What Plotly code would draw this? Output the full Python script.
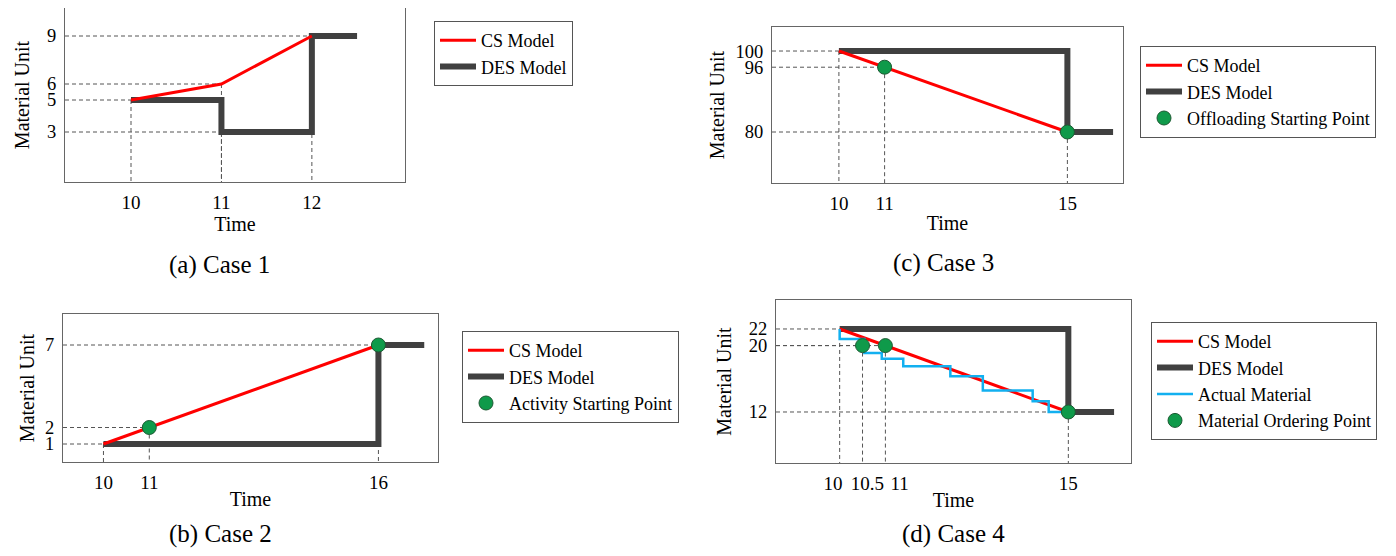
import plotly.graph_objects as go

# the page body adds an 8px margin, so the figure is 16px smaller than the window
OFF = 8
W, H = 1396 - 2 * OFF, 556 - 2 * OFF

# ---------------- data ----------------
# Case 1
a_cs_x = [10, 11, 12]
a_cs_y = [5, 6, 9]
a_des_x = [10, 11, 11, 12, 12, 12.5]
a_des_y = [5, 5, 3, 3, 9, 9]
a_guides = [(10, 5), (11, 6), (11, 3), (12, 9)]
a_xticks = [10, 11, 12]
a_xlabels = ["10", "11", "12"]
a_yticks = [3, 5, 6, 9]

# Case 2
b_cs_x = [10, 16]
b_cs_y = [1, 7]
b_des_x = [10, 16, 16, 17]
b_des_y = [1, 1, 7, 7]
b_pts_x = [11, 16]
b_pts_y = [2, 7]
b_guides = [(10, 1), (11, 2), (16, 7)]
b_xticks = [10, 11, 16]
b_xlabels = ["10", "11", "16"]
b_yticks = [1, 2, 7]

# Case 3
c_cs_x = [10, 15]
c_cs_y = [100, 80]
c_des_x = [10, 15, 15, 16]
c_des_y = [100, 100, 80, 80]
c_pts_x = [11, 15]
c_pts_y = [96, 80]
c_guides = [(10, 100), (11, 96), (15, 80)]
c_xticks = [10, 11, 15]
c_xlabels = ["10", "11", "15"]
c_yticks = [80, 96, 100]

# Case 4
d_cs_x = [10, 15]
d_cs_y = [22, 12]
d_des_x = [10, 15, 15, 16]
d_des_y = [22, 22, 12, 12]
d_act_x = [10, 10, 10.54, 10.92, 11.39, 12.42, 13.13, 14.22, 14.57, 15]
d_act_y = [22, 20.8, 19.1, 18.4, 17.5, 16.3, 14.6, 13.3, 12, 12]
d_pts_x = [10.5, 11, 15]
d_pts_y = [20, 20, 12]
d_guides = [(10, 22), (10.5, 20), (11, 20), (15, 12)]
d_xticks = [10, 10.5, 11, 15]
# crowded labels are spread apart with wide spaces, as in the original
d_xlabels = ["10\u2002\u2009", "\u200210.5", "\u2003\u200211", "15"]
d_yticks = [12, 20, 22]

# ---------------- layout geometry (window pixels) ----------------
panels = {
    "a": dict(box=(65, 8, 405, 182), xr=[9.27, 13.03], yr=[-0.125, 10.75], ys=12, xs=2),
    "b": dict(box=(63, 314, 438, 462), xr=[9.117, 17.30], yr=[-0.091, 8.879], ys=5, xs=0),
    "c": dict(box=(772, 27, 1123, 183), xr=[8.536, 16.217], yr=[67.41, 105.93], ys=5, xs=3),
    "d": dict(box=(776, 300, 1131, 463), xr=[8.608, 16.37], yr=[5.855, 25.49], ys=11, xs=0),
}


def px(x):
    return min(1.0, max(0.0, (x - OFF) / W))


def py(y):
    return min(1.0, max(0.0, 1 - (y - OFF) / H))


RED = "#ff0000"
DES = "#404040"
BLUE = "#12b0f0"
GREEN = "#0f9a4a"
FONT = "Liberation Serif"

fig = go.Figure()

axis_ids = {"a": ("x", "y"), "b": ("x2", "y2"), "c": ("x3", "y3"), "d": ("x4", "y4")}
legend_ids = {"a": "legend", "b": "legend2", "c": "legend3", "d": "legend4"}


def add_guides(key, guides):
    xa, ya = axis_ids[key]
    xmin = panels[key]["xr"][0]
    ymin = panels[key]["yr"][0]
    gx, gy = [], []
    for (gxv, gyv) in guides:
        gx += [xmin, gxv, None, gxv, gxv, None]
        gy += [gyv, gyv, None, gyv, ymin, None]
    fig.add_trace(go.Scatter(x=gx, y=gy, mode="lines", xaxis=xa, yaxis=ya,
                             line=dict(color="#555555", width=1, dash="4px,3px"),
                             showlegend=False, hoverinfo="skip"))


def add_panel(key, cs, des, guides, pts=None, act=None, pts_name=None):
    xa, ya = axis_ids[key]
    lg = legend_ids[key]
    add_guides(key, guides)
    fig.add_trace(go.Scatter(x=des[0], y=des[1], mode="lines", name="DES Model",
                             xaxis=xa, yaxis=ya, legend=lg, legendrank=2,
                             line=dict(color=DES, width=6)))
    fig.add_trace(go.Scatter(x=cs[0], y=cs[1], mode="lines", name="CS Model",
                             xaxis=xa, yaxis=ya, legend=lg, legendrank=1,
                             line=dict(color=RED, width=3)))
    if act is not None:
        fig.add_trace(go.Scatter(x=act[0], y=act[1], mode="lines", name="Actual Material",
                                 xaxis=xa, yaxis=ya, legend=lg, legendrank=3,
                                 line=dict(color=BLUE, width=2.5, shape="hv")))
    if pts is not None:
        fig.add_trace(go.Scatter(x=pts[0], y=pts[1], mode="markers", name=pts_name,
                                 xaxis=xa, yaxis=ya, legend=lg, legendrank=4,
                                 marker=dict(color=GREEN, size=14,
                                             line=dict(color="#1d5a33", width=1))))


add_panel("a", (a_cs_x, a_cs_y), (a_des_x, a_des_y), a_guides)
add_panel("b", (b_cs_x, b_cs_y), (b_des_x, b_des_y), b_guides,
          pts=(b_pts_x, b_pts_y), pts_name="Activity Starting Point")
add_panel("c", (c_cs_x, c_cs_y), (c_des_x, c_des_y), c_guides,
          pts=(c_pts_x, c_pts_y), pts_name="Offloading Starting Point")
add_panel("d", (d_cs_x, d_cs_y), (d_des_x, d_des_y), d_guides,
          pts=(d_pts_x, d_pts_y), act=(d_act_x, d_act_y), pts_name="Material Ordering Point")

ticks = {"a": (a_xticks, a_xlabels, a_yticks), "b": (b_xticks, b_xlabels, b_yticks),
         "c": (c_xticks, c_xlabels, c_yticks), "d": (d_xticks, d_xlabels, d_yticks)}

layout = {}
for key, p in panels.items():
    x0, y0, x1, y1 = p["box"]
    xa, ya = axis_ids[key]
    xname = "xaxis" + xa[1:]
    yname = "yaxis" + ya[1:]
    xt, xl, yt = ticks[key]
    common = dict(showgrid=False, zeroline=False, showline=True, mirror=True,
                  linecolor="#666666", linewidth=1, ticks="outside",
                  tickcolor="rgba(0,0,0,0)", fixedrange=True, tickangle=0)
    layout[xname] = dict(common, domain=[px(x0), px(x1)], range=p["xr"],
                         anchor=ya, tickmode="array", tickvals=xt, ticktext=xl, ticklen=3,
                         tickfont=dict(family=FONT, size=19, color="black"),
                         title=dict(text="Time", font=dict(family=FONT, size=20, color="black"),
                                    standoff=p["xs"]))
    layout[yname] = dict(common, domain=[py(y1), py(y0)], range=p["yr"],
                         anchor=xa, tickmode="array", tickvals=yt,
                         ticktext=[str(v) for v in yt], ticklen=4,
                         tickfont=dict(family=FONT, size=18.5, color="black"),
                         title=dict(text="Material Unit", font=dict(family=FONT, size=20, color="black"),
                                    standoff=p["ys"]))

legend_pos = {"legend": (434, 21), "legend2": (462, 331), "legend3": (1140, 46), "legend4": (1151, 322)}
for lname, (lx, ly) in legend_pos.items():
    layout[lname] = dict(x=px(lx), y=py(ly), xanchor="left", yanchor="top",
                         bgcolor="white", bordercolor="#555555", borderwidth=1,
                         itemwidth=36,
                         font=dict(family=FONT, size=18, color="black"))

captions = [("(a) Case 1", 219, 265), ("(b) Case 2", 220, 534),
            ("(c) Case 3", 943, 263), ("(d) Case 4", 953, 534)]
annotations = [dict(text=t, x=px(cx), y=py(cy), xref="paper", yref="paper",
                    xanchor="center", yanchor="middle", showarrow=False,
                    font=dict(family=FONT, size=25, color="black"))
               for t, cx, cy in captions]

fig.update_layout(width=W, height=H, margin=dict(l=0, r=0, t=0, b=0),
                  paper_bgcolor="white", plot_bgcolor="white",
                  annotations=annotations, **layout)

fig.write_html("out.html")
